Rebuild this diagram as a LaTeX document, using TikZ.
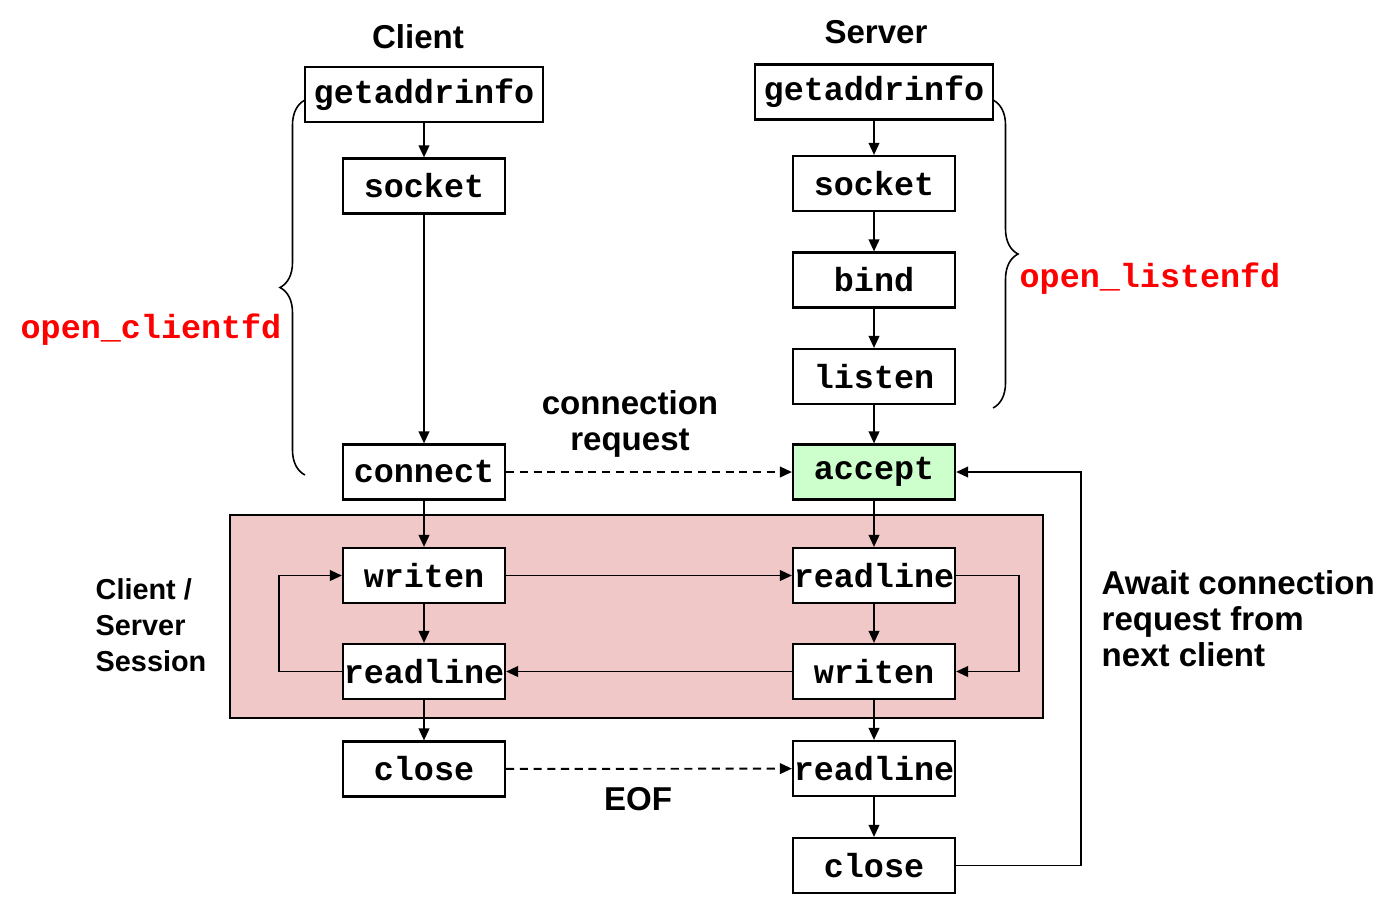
\documentclass[tikz,border=0pt]{standalone}
\usepackage{fontspec}
\setmainfont{Liberation Sans}
\newfontfamily\codefont{Liberation Mono}
\usetikzlibrary{arrows.meta,decorations.pathreplacing}
\definecolor{sessionpink}{RGB}{240,200,200}
\definecolor{acceptgreen}{RGB}{204,255,204}

\begin{document}
\begin{tikzpicture}[x=0.01cm, y=-0.01cm, >={Triangle[length=3.4pt,width=3pt]},
  every node/.style={font=\fontsize{9.4}{10.2}\selectfont\bfseries},
  fn/.style={draw, line width=0.6pt, fill=white, minimum width=1.62cm, minimum height=0.55cm, inner sep=0pt, font=\fontsize{9.5}{10.2}\selectfont\codefont\bfseries},
  wide/.style={fn, minimum width=2.38cm},
  wrapper/.style={text=red, font=\fontsize{9.5}{10.2}\selectfont\codefont\bfseries},
  note/.style={anchor=west, align=left, inner sep=0pt},
  link/.style={->, line width=0.55pt},
  req/.style={link, dash pattern=on 2.3pt off 1.6pt},
  curly/.style={decorate, decoration={brace, amplitude=0.25cm}, line width=0.45pt}]
 \useasboundingbox (0,0) rectangle (1397,905);
 % session area
 \draw[line width=0.6pt, fill=sessionpink] (230,515) rectangle (1043,718);
 % client side
 \node (ctitle) at (418,37) {Client};
 \node[wide] (cgai) at (424,94.5) {getaddrinfo};
 \node[fn] (csock) at (424,186) {socket};
 \node[fn] (cconn) at (424,472) {connect};
 \node[fn] (cwrite) at (424,575.5) {writen};
 \node[fn] (cread) at (424,671.5) {readline};
 \node[fn] (cclose) at (424,769) {close};
 % server side
 \node (stitle) at (876,32) {Server};
 \node[wide] (sgai) at (874,92) {getaddrinfo};
 \node[fn] (ssock) at (874,183.5) {socket};
 \node[fn] (sbind) at (874,280) {bind};
 \node[fn] (slisten) at (874,376.5) {listen};
 \node[fn, fill=acceptgreen] (saccept) at (874,472) {accept};
 \node[fn] (sread) at (874,575.5) {readline};
 \node[fn] (swrite) at (874,671.5) {writen};
 \node[fn] (sread2) at (874,768.5) {readline};
 \node[fn] (sclose) at (874,865.5) {close};
 % labels
 \node[wrapper] (cwrap) at (151,330) {open\_clientfd};
 \node[wrapper] (swrap) at (1150,279) {open\_listenfd};
 \node[align=center] (conreq) at (630,424) {connection\\request};
 \node (eof) at (638,799) {EOF};
 \node[note, font=\fontsize{8.2}{10.2}\selectfont\bfseries] (sess) at (95,625) {Client /\\Server\\Session};
 \node[note] (await) at (1101,619) {Await connection\\request from\\next client};
 % braces
 \draw[curly] (305,475) -- (305,100);
 \draw[curly] (993,100) -- (993,408);
 % client flow
 \draw[link] (cgai) -- (csock);
 \draw[link] (csock) -- (cconn);
 \draw[link] (cconn) -- (cwrite);
 \draw[link] (cwrite) -- (cread);
 \draw[link] (cread) -- (cclose);
 % server flow
 \draw[link] (sgai) -- (ssock);
 \draw[link] (ssock) -- (sbind);
 \draw[link] (sbind) -- (slisten);
 \draw[link] (slisten) -- (saccept);
 \draw[link] (saccept) -- (sread);
 \draw[link] (sread) -- (swrite);
 \draw[link] (swrite) -- (sread2);
 \draw[link] (sread2) -- (sclose);
 % exchanges
 \draw[req] (cconn) -- (saccept);
 \draw[req] (cclose) -- (sread2);
 \draw[link] (cwrite) -- (sread);
 \draw[link] (swrite) -- (cread);
 \draw[link] (sread.east) -- ++(63,0) |- (swrite.east);
 \draw[link] (cread.west) -- ++(-63,0) |- (cwrite.west);
 \draw[link] (sclose.east) -- ++(125,0) |- (saccept.east);
\end{tikzpicture}
\end{document}
